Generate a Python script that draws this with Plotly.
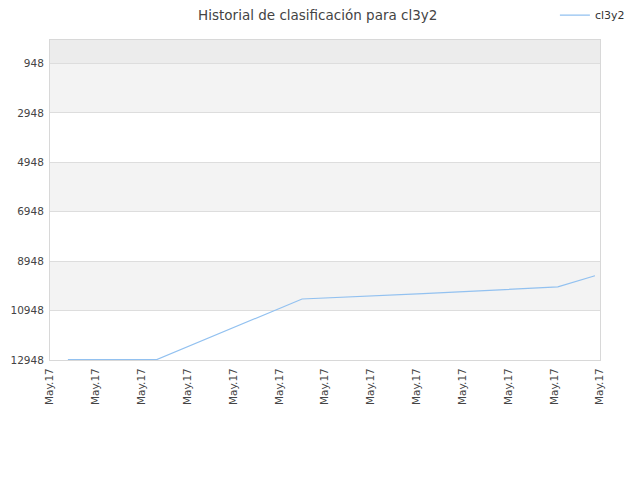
import plotly.graph_objects as go

# x positions in tick units (each tick = one "May.17" label)
x_pos = [0.39, 2.33, 5.50, 8.14, 11.08, 11.89]
ranks = [12930, 12930, 10480, 10265, 9990, 9540]

tick_vals_y = [948, 2948, 4948, 6948, 8948, 10948, 12948]
tick_text_y = [str(v) for v in tick_vals_y]
tick_vals_x = list(range(13))
tick_text_x = ["May.17"] * 13
series_name = "cl3y2"

fig = go.Figure()
fig.add_trace(
    go.Scatter(
        x=x_pos,
        y=ranks,
        mode="lines",
        name=series_name,
        line=dict(color="#92c1f0", width=1.2),
    )
)

# alternating background bands
shapes = [
    dict(type="rect", xref="paper", yref="y", x0=0, x1=1, y0=0, y1=tick_vals_y[0],
         fillcolor="#ececec", line_width=0, layer="below")
]
for i in range(0, len(tick_vals_y) - 1, 2):
    shapes.append(
        dict(type="rect", xref="paper", yref="y", x0=0, x1=1,
             y0=tick_vals_y[i], y1=tick_vals_y[i + 1],
             fillcolor="#f3f3f3", line_width=0, layer="below")
    )

# the page puts the figure 8px in from the top-left, margins account for that
fig.update_layout(
    width=640,
    height=480,
    margin=dict(l=42, r=48, t=32, b=128, autoexpand=False),
    paper_bgcolor="#ffffff",
    plot_bgcolor="#ffffff",
    font=dict(family="DejaVu Sans, sans-serif", size=11, color="#444444"),
    title=dict(
        text="Historial de clasificación para cl3y2",
        x=0.484,
        xanchor="center",
        y=0.985,
        yanchor="middle",
        yref="container",
        font=dict(size=13.5, color="#444444"),
    ),
    showlegend=True,
    legend=dict(
        x=0.918,
        xanchor="left",
        y=1.078,
        yanchor="middle",
        bgcolor="rgba(0,0,0,0)",
        font=dict(size=11, color="#333333"),
    ),
    shapes=shapes,
)
fig.update_xaxes(
    range=[0, 12],
    tickmode="array",
    tickvals=tick_vals_x,
    ticktext=tick_text_x,
    tickangle=-90,
    tickfont=dict(size=10.5, color="#444444"),
    ticklabelstandoff=3,
    showgrid=False,
    zeroline=False,
    showline=True,
    linecolor="#d8d8d8",
    mirror=True,
    automargin=False,
)
fig.update_yaxes(
    range=[12948, 0],
    tickmode="array",
    tickvals=tick_vals_y,
    ticktext=tick_text_y,
    tickfont=dict(size=10.5, color="#444444"),
    ticklabelstandoff=3,
    showgrid=True,
    gridcolor="#dddddd",
    zeroline=False,
    showline=True,
    linecolor="#d8d8d8",
    mirror=True,
    automargin=False,
)

fig.write_html("out.html")
